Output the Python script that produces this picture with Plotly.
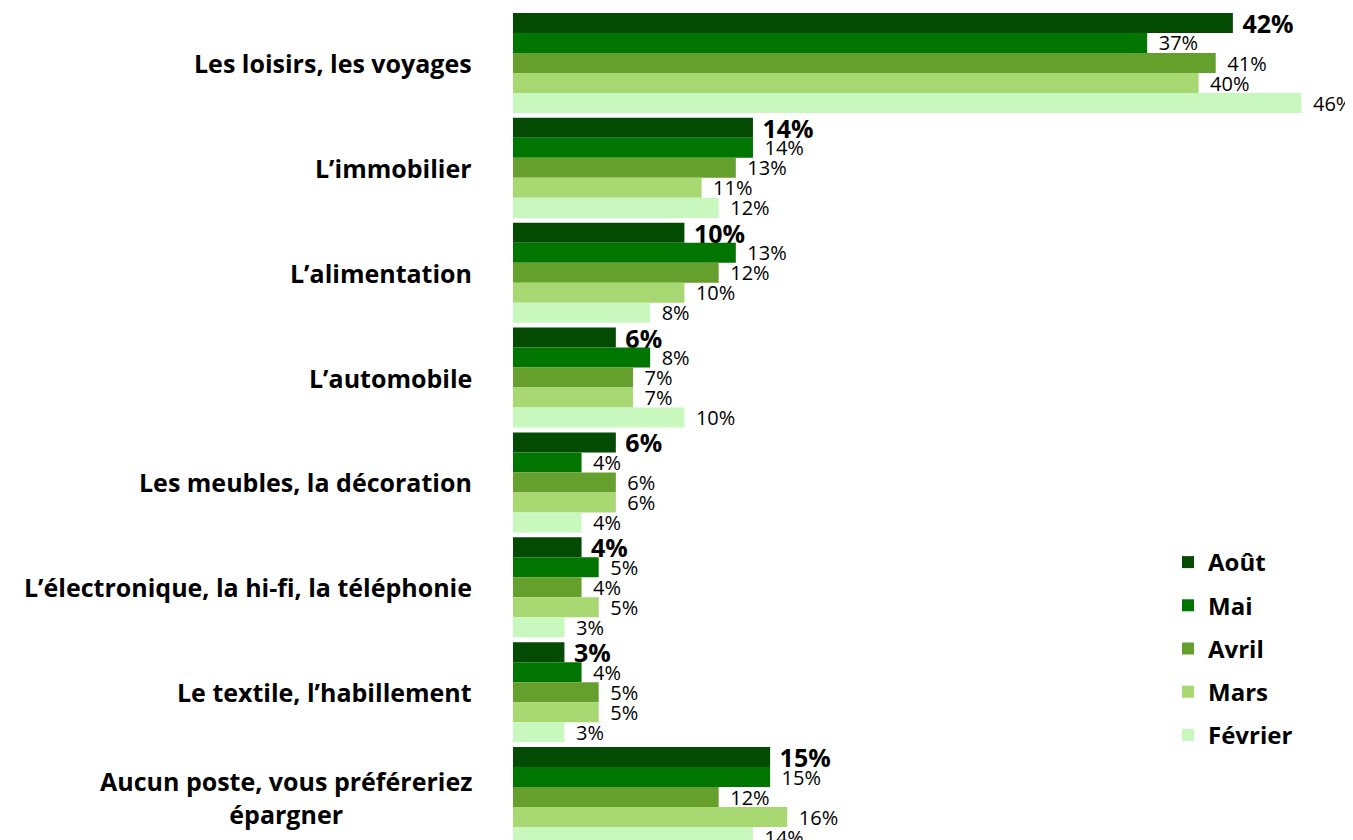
import plotly.graph_objects as go

categories = [
    "Les loisirs, les voyages",
    "L’immobilier",
    "L’alimentation",
    "L’automobile",
    "Les meubles, la décoration",
    "L’électronique, la hi-fi, la téléphonie",
    "Le textile, l’habillement",
    "Aucun poste, vous préféreriez<br>épargner",
]
series_names = ["Août", "Mai", "Avril", "Mars", "Février"]
aout = [42, 14, 10, 6, 6, 4, 3, 15]
mai = [37, 14, 13, 8, 4, 5, 4, 15]
avril = [41, 13, 12, 7, 6, 4, 5, 12]
mars = [40, 11, 10, 7, 6, 5, 5, 16]
fevrier = [46, 12, 8, 10, 4, 3, 3, 14]
values = [aout, mai, avril, mars, fevrier]
colors = ["#034A03", "#007600", "#66A02C", "#A8D872", "#C8F8BE"]

# the page body adds an 8px offset; sizes/positions below are compensated
W, H = 1345, 832
left = 505
px_per_pct = 17.14
pitch = 104.86
first_center = 55

fig = go.Figure()
ypos = list(range(len(categories)))
for i, (name, vals, col) in enumerate(zip(series_names, values, colors)):
    bold = i == 0
    pad = "\u00a0" if bold else "\u00a0\u2009"
    fig.add_trace(go.Bar(
        name=name,
        y=ypos,
        x=vals,
        orientation="h",
        marker=dict(color=col, line=dict(width=0)),
        text=[f"{pad}{v}%" for v in vals],
        textposition="outside",
        constraintext="none",
        cliponaxis=False,
        textfont=dict(family="Open Sans", size=25 if bold else 20,
                      color="black", weight="bold" if bold else "normal"),
        legendgroup=name,
    ))

y_top = -first_center / pitch
y_bot = (H - first_center) / pitch
x_max = (W - left) / px_per_pct

for k, cat in enumerate(categories):
    fig.add_annotation(
        x=0, xref="paper", y=k, yref="y",
        text=cat, showarrow=False, xanchor="right", xshift=-39,
        align="center",
        font=dict(family="Open Sans", size=25, color="black", weight="bold"),
    )

plot_w = W - left
fig.update_layout(
    width=W, height=H,
    margin=dict(l=left, r=0, t=0, b=0, autoexpand=False),
    plot_bgcolor="white", paper_bgcolor="white",
    barmode="group", bargap=0.046, bargroupgap=0,
    xaxis=dict(range=[0, x_max], visible=False, showgrid=False, zeroline=False),
    yaxis=dict(range=[y_bot, y_top], showticklabels=False, showgrid=False,
               zeroline=False, showline=False, ticks=""),
    showlegend=True,
    legend=dict(
        x=(1160 - left) / plot_w, y=1 - 532 / H, xanchor="left", yanchor="top",
        traceorder="grouped", tracegroupgap=9,
        font=dict(family="Open Sans", size=24, color="black", weight="bold"),
        bgcolor="rgba(0,0,0,0)", itemwidth=30,
    ),
)

fig.write_html(
    "out.html",
    post_script="document.documentElement.style.overflow='hidden';",
)
